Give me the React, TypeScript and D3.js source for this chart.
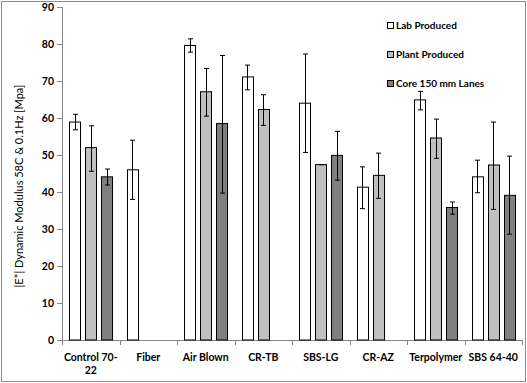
import React from "react";
import * as d3 from "d3";

const categories = ["Control 70-22", "Fiber", "Air Blown", "CR-TB", "SBS-LG", "CR-AZ", "Terpolymer", "SBS 64-40"];
const categoryLines = [["Control 70-", "22"], ["Fiber"], ["Air Blown"], ["CR-TB"], ["SBS-LG"], ["CR-AZ"], ["Terpolymer"], ["SBS 64-40"]];
const seriesNames = ["Lab Produced", "Plant Produced", "Core 150 mm Lanes"];
const seriesColors = ["#ffffff", "#c0c0c0", "#808080"];

const labValues: (number | null)[] = [58.9, 46.0, 79.6, 71.1, 64.0, 41.3, 64.9, 44.1];
const labLow: (number | null)[] = [56.8, 38.0, 77.8, 67.6, 50.7, 35.5, 62.2, 39.8];
const labHigh: (number | null)[] = [61.0, 54.0, 81.4, 74.3, 77.3, 46.8, 67.2, 48.6];

const plantValues: (number | null)[] = [52.0, null, 67.1, 62.3, 47.4, 44.5, 54.6, 47.3];
const plantLow: (number | null)[] = [45.6, null, 60.5, 58.0, 47.4, 38.3, 49.1, 35.3];
const plantHigh: (number | null)[] = [57.9, null, 73.4, 66.3, 47.4, 50.5, 59.7, 58.9];

const coreValues: (number | null)[] = [44.1, null, 58.5, null, 49.9, null, 35.8, 39.1];
const coreLow: (number | null)[] = [41.9, null, 39.7, null, 43.2, null, 34.0, 28.6];
const coreHigh: (number | null)[] = [46.2, null, 76.9, null, 56.4, null, 37.3, 49.7];

const yTicks = [0, 10, 20, 30, 40, 50, 60, 70, 80, 90];

const series = [
  { values: labValues, low: labLow, high: labHigh },
  { values: plantValues, low: plantLow, high: plantHigh },
  { values: coreValues, low: coreLow, high: coreHigh },
];

export default function App() {
  const W = 527, H = 383;
  const left = 62, right = 522, top = 7, bottom = 340;
  const x = d3.scaleBand<string>().domain(categories).range([left, right]).paddingInner(0).paddingOuter(0);
  const y = d3.scaleLinear().domain([0, 90]).range([bottom, top]);
  const barW = 11;
  const step = 16;
  const font = "Lato, 'Open Sans', sans-serif";

  return (
    <svg width={W} height={H} style={{ position: "absolute", left: 0, top: 0 }}>
      <rect x={0} y={0} width={W} height={H} fill="#fff" />
      <rect x={1.5} y={1.5} width={W - 3} height={H - 3} fill="none" stroke="#8c8c8c" strokeWidth={1} />
      {/* y axis */}
      <line x1={left + 0.5} x2={left + 0.5} y1={top} y2={bottom} stroke="#868686" />
      {yTicks.map((t) => (
        <g key={t}>
          <line x1={left - 5} x2={left} y1={Math.round(y(t)) + 0.5} y2={Math.round(y(t)) + 0.5} stroke="#868686" />
          <text x={left - 8} y={y(t)} dy="0.35em" textAnchor="end" fontSize={10.5} fontWeight="bold" fontFamily={font} fill="#000">{t}</text>
        </g>
      ))}
      {/* x axis */}
      <line x1={left} x2={right} y1={bottom + 0.5} y2={bottom + 0.5} stroke="#868686" />
      {categories.map((c, i) => (
        <line key={"t" + i} x1={Math.round(x(c)!) + 0.5} x2={Math.round(x(c)!) + 0.5} y1={bottom} y2={bottom + 5} stroke="#868686" />
      ))}
      <line x1={right + 0.5} x2={right + 0.5} y1={bottom} y2={bottom + 5} stroke="#868686" />
      {categories.map((c, i) => (
        <text key={"l" + i} x={x(c)! + x.bandwidth() / 2} y={361} textAnchor="middle" fontSize={10.5} fontWeight="bold" fontFamily={font} fill="#000">
          {categoryLines[i].map((ln, j) => (
            <tspan key={j} x={x(c)! + x.bandwidth() / 2} dy={j === 0 ? 0 : 13}>{ln}</tspan>
          ))}
        </text>
      ))}
      {/* bars */}
      {series.map((s, si) =>
        categories.map((c, i) => {
          const v = s.values[i];
          if (v == null) return null;
          const cx = x(c)! + x.bandwidth() / 2 + (si - 1) * step;
          return (
            <rect key={si + "-" + i} x={Math.round(cx - barW / 2) + 0.5} y={y(v)} width={barW} height={bottom - y(v)} fill={seriesColors[si]} stroke="#000" strokeWidth={1} />
          );
        })
      )}
      {/* error bars */}
      {series.map((s, si) =>
        categories.map((c, i) => {
          const lo = s.low[i], hi = s.high[i];
          if (lo == null || hi == null) return null;
          const cx = Math.round(x(c)! + x.bandwidth() / 2 + (si - 1) * step) + 0.5;
          return (
            <g key={"e" + si + "-" + i} stroke="#000" strokeWidth={1}>
              <line x1={cx} x2={cx} y1={y(hi)} y2={y(lo)} />
              <line x1={cx - 2.5} x2={cx + 2.5} y1={y(hi)} y2={y(hi)} />
              <line x1={cx - 2.5} x2={cx + 2.5} y1={y(lo)} y2={y(lo)} />
            </g>
          );
        })
      )}
      {/* legend */}
      {seriesNames.map((n, i) => (
        <g key={"lg" + i}>
          <rect x={387.5} y={22.5 + i * 29} width={6} height={6} fill={seriesColors[i]} stroke="#000" />
          <text x={396} y={25.5 + i * 29} dy="0.35em" fontSize={10} fontWeight="bold" fontFamily={font} fill="#000">{n}</text>
        </g>
      ))}
      {/* y title */}
      <text transform={`translate(19,186) rotate(-90)`} textAnchor="middle" dy="0.35em" fontSize={11} fontFamily={font} fill="#000">
        |E*| Dynamic Modulus 58C &amp; 0.1Hz [Mpa]
      </text>
    </svg>
  );
}
